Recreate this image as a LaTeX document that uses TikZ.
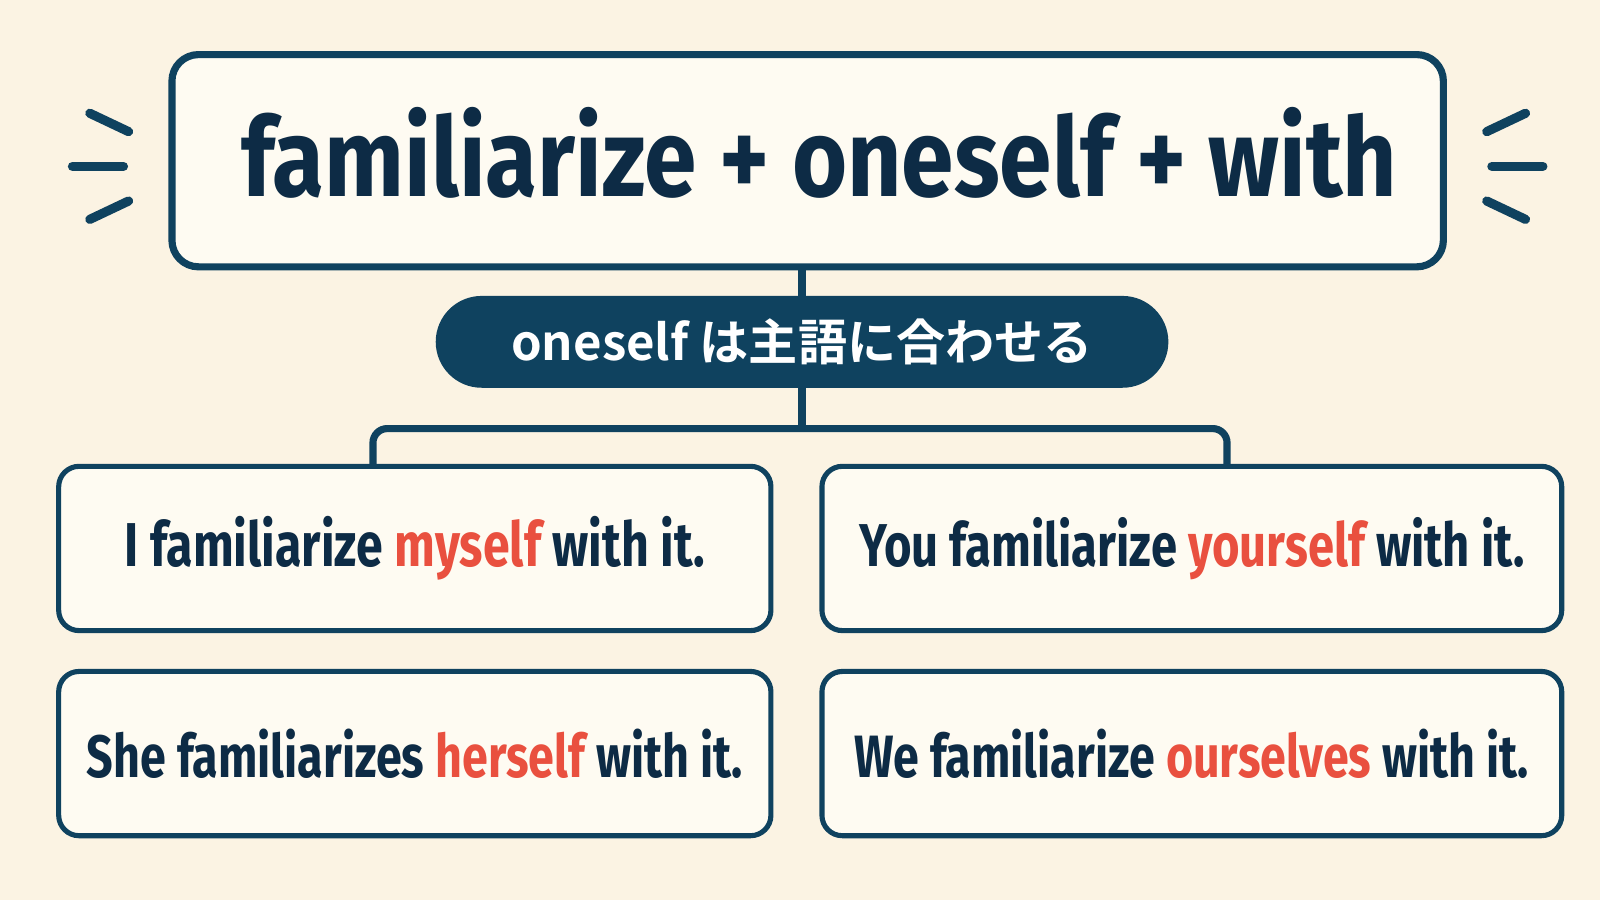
\documentclass[tikz,border=0pt]{standalone}
\usepackage{fontspec}
\usepackage{graphicx}
\usetikzlibrary{calc}
\newfontfamily\titlefont[FakeStretch=0.86]{Fira Sans Bold}
\newfontfamily\sentfont[FakeStretch=0.78]{Fira Sans Bold}
\newfontfamily\jpfont{Noto Sans CJK JP Bold}
\definecolor{bgc}{HTML}{FBF3E3}
\definecolor{boxfill}{HTML}{FEFBF2}
\definecolor{navy}{HTML}{0F425F}
\definecolor{ink}{HTML}{0D2B45}
\definecolor{hl}{HTML}{E9503F}
\newcommand\fitto[2]{\resizebox{#1}{!}{#2}}
\newcommand\hi[1]{\textcolor{hl}{#1}}
\tikzset{
  titlebox/.style={draw=navy, line width=7pt, fill=boxfill, rounded corners=26pt,
    minimum width=1246pt, minimum height=208pt, inner sep=0pt},
  pillbox/.style={fill=navy, rounded corners=45pt, minimum width=718pt,
    minimum height=90pt, inner sep=0pt, text=white},
  exbox/.style={draw=navy, line width=5pt, fill=boxfill, rounded corners=20pt,
    minimum height=161pt, inner sep=0pt, text=ink},
  conn/.style={draw=navy, line width=7pt},
  ray/.style={draw=navy, line width=9pt, line cap=round},
}
\begin{document}
\begin{tikzpicture}[x=1pt,y=-1pt]
\fill[bgc] (0,0) rectangle (1568,882);
\useasboundingbox (0,0) rectangle (1568,882);

% rays
\draw[ray] (88,111) -- (126,129);
\draw[ray] (71,163) -- (121,163);
\draw[ray] (88,215) -- (126,197);
\draw[ray] (1495,111) -- (1457,129);
\draw[ray] (1512,163) -- (1462,163);
\draw[ray] (1495,215) -- (1457,197);

% nodes
\node[titlebox] (title) at (791.5,157.5) {};
\node[text=ink] (titletext) at (803,150) {\fitto{1133pt}{\titlefont familiarize + oneself + with}};
\node[pillbox] (pill) at (786,335) {\fitto{570pt}{\jpfont oneself は主語に合わせる}};

\node[exbox, minimum width=698pt] (b1) at (406.5,537.5) {\fitto{568pt}{\sentfont I familiarize \hi{myself} with it.}};
\node[exbox, minimum width=725pt] (b2) at (1168,537.5) {\fitto{652pt}{\sentfont You familiarize \hi{yourself} with it.}};
\node[exbox, minimum width=698pt] (b3) at (406.5,738.5) {\fitto{643pt}{\sentfont She familiarizes \hi{herself} with it.}};
\node[exbox, minimum width=725pt] (b4) at (1168,738.5) {\fitto{661pt}{\sentfont We familiarize \hi{ourselves} with it.}};

% connectors
\coordinate (split) at (786,420);
\coordinate (lt) at ($(b1.north west)+(310.5,0)$);
\coordinate (rt) at ($(b2.north west)+(399.5,0)$);
\draw[conn] (pill.north |- title.south) -- (pill.north);
\draw[conn] (pill.south) -- (split);
\draw[conn, rounded corners=14pt] (lt) |- (split) -| (rt);
\end{tikzpicture}
\end{document}
